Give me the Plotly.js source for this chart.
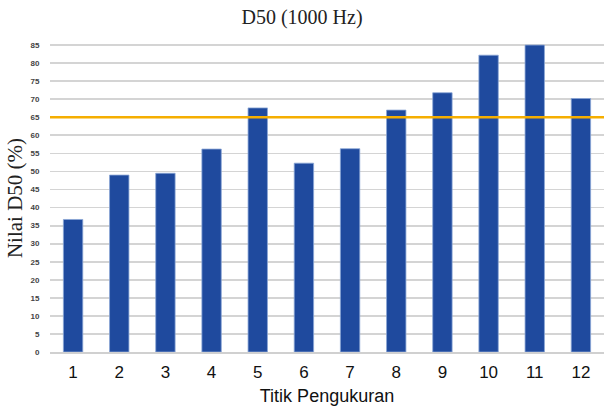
<!DOCTYPE html>
<html><head><meta charset="utf-8">
<script src="https://cdn.plot.ly/plotly-3.0.1.min.js"></script>
<style>html,body{margin:0;padding:0;background:#fff}#chart{width:604px;height:412px}</style>
</head><body><div id="chart"></div>
<script>
var categories = ['1','2','3','4','5','6','7','8','9','10','11','12'];
var d50Values = [36.7, 49.0, 49.5, 56.2, 67.6, 52.3, 56.3, 67.0, 71.8, 82.2, 85.0, 70.2];
var threshold = 65;
var yTicks = [0,5,10,15,20,25,30,35,40,45,50,55,60,65,70,75,80,85];

var trace = {
  type: 'bar', x: categories, y: d50Values,
  marker: {color: '#1f4a9e', line: {color: '#8aa6d6', width: 0.8}},
  width: 0.42, hoverinfo: 'x+y'
};
var layout = {
  width: 604, height: 412,
  margin: {l: 50, r: 0, t: 44, b: 60},
  paper_bgcolor: '#fff', plot_bgcolor: '#fff',
  showlegend: false,
  title: {text: 'D50 (1000 Hz)', font: {family: 'Liberation Serif, Times New Roman, serif', size: 20, color: '#222'}, x: 0.5, xanchor: 'center', y: 0.975, yanchor: 'top'},
  xaxis: {
    type: 'category', showgrid: false, zeroline: false,
    showline: true, linecolor: '#d0d0d0', linewidth: 1.5,
    ticks: 'outside', ticklen: 4, tickcolor: 'rgba(0,0,0,0)',
    tickfont: {family: 'Liberation Sans, Arial, sans-serif', size: 17, color: '#111'},
    title: {text: 'Titik Pengukuran', font: {family: 'Liberation Sans, Arial, sans-serif', size: 18, color: '#111'}, standoff: 8}
  },
  yaxis: {
    range: [0, 85.3], tickvals: yTicks, ticktext: yTicks.map(String),
    showgrid: true, gridcolor: '#d4d4d4', gridwidth: 1.8, zeroline: false,
    showline: false, ticks: 'outside', ticklen: 8, tickcolor: 'rgba(0,0,0,0)',
    tickfont: {family: 'Liberation Sans, Arial, sans-serif', size: 8, color: '#444', weight: 'bold'},
    title: {text: 'Nilai D50 (%)', font: {family: 'Liberation Serif, Times New Roman, serif', size: 21, color: '#222'}, standoff: 2}
  },
  shapes: [{type: 'line', xref: 'paper', x0: 0, x1: 1, yref: 'y', y0: threshold, y1: threshold, line: {color: '#f5ae00', width: 2.5}}]
};
Plotly.newPlot('chart', [trace], layout, {displayModeBar: false, staticPlot: true});
</script></body></html>
